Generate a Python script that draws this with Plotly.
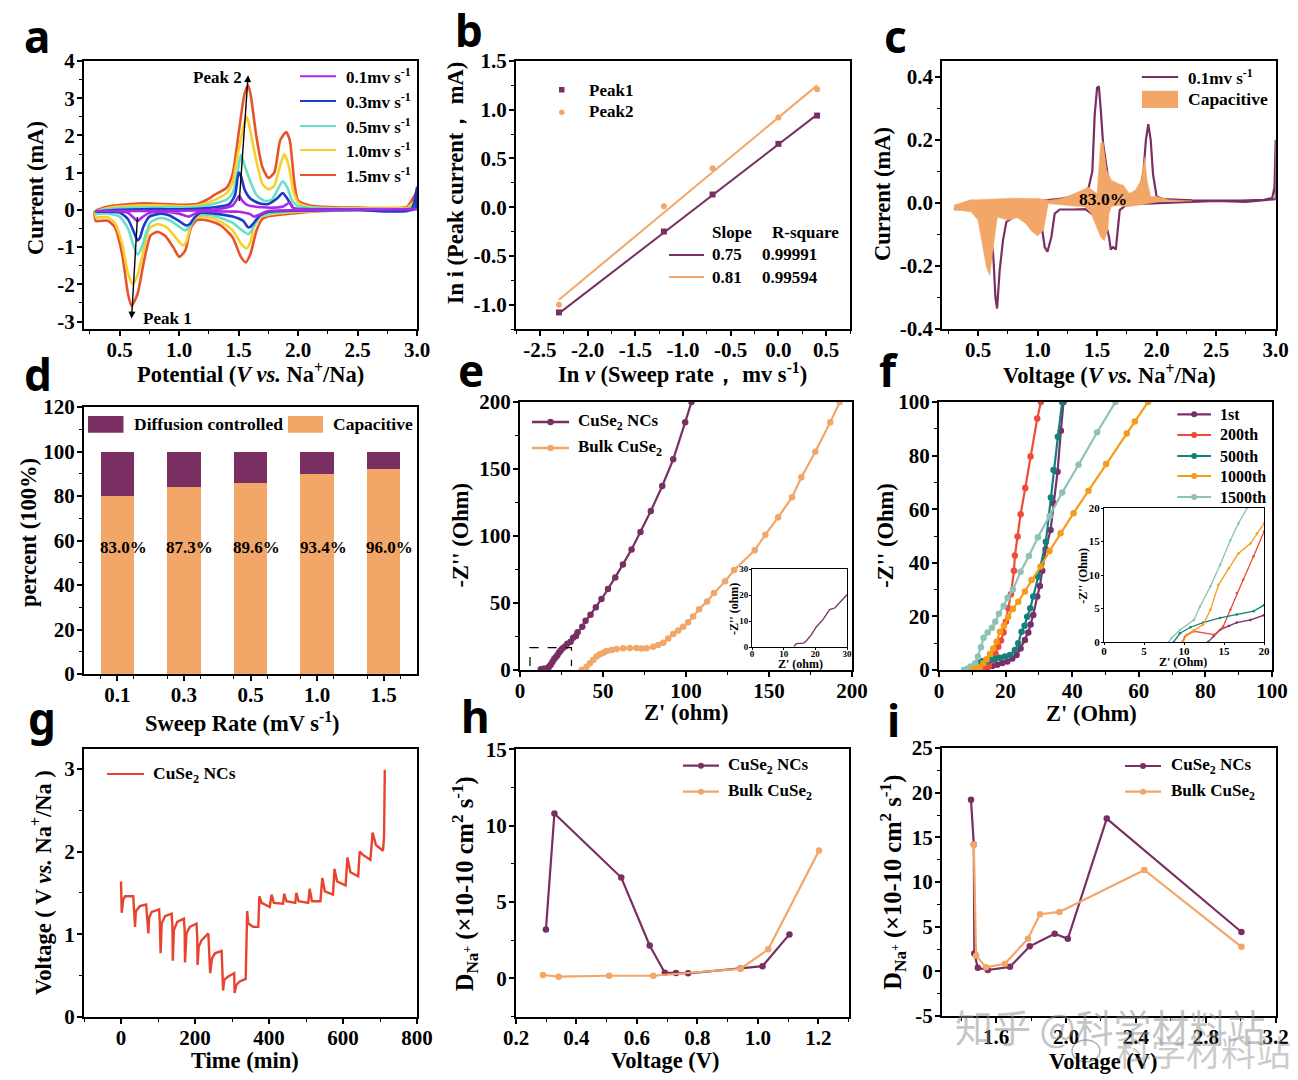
import plotly.graph_objects as go

# the page keeps 8px of body margin, so the figure is drawn 8px in from the window corner
W, H = 1290, 1072
OFFSET = 8
SERIF = "Liberation Serif"
PURPLE = "#7a2f62"
ORANGE = "#f2a667"

# panel a - CV curves, (potential, current)
cv_15 = [(0.29, -0.05), (0.33, 0.02), (0.4, 0.09), (0.5, 0.13), (0.7, 0.18), (1.0, 0.14), (1.15, 0.16), (1.25, 0.3), (1.3, 0.41), (1.4, 0.6),
         (1.45, 0.97), (1.5, 2.05), (1.55, 3.12), (1.58, 3.35), (1.6, 3.12), (1.65, 1.96), (1.7, 1.15), (1.75, 0.86), (1.8, 1.0), (1.85, 1.87),
         (1.9, 2.09), (1.93, 1.87), (1.97, 0.7), (2.0, 0.25), (2.1, 0.12), (2.3, 0.07), (2.5, 0.06), (2.8, 0.05), (2.95, 0.1), (3.0, 0.5),
         (2.9, 0.02), (2.5, 0.0), (2.2, -0.03), (2.0, -0.08), (1.85, -0.13), (1.75, -0.17), (1.7, -0.24), (1.65, -0.56), (1.6, -1.18), (1.56, -1.41),
         (1.52, -1.27), (1.45, -0.74), (1.35, -0.42), (1.25, -0.29), (1.15, -0.27), (1.1, -0.47), (1.05, -1.1), (1.0, -1.26), (0.95, -1.0), (0.88, -0.69),
         (0.82, -0.59), (0.76, -0.69), (0.7, -1.45), (0.65, -2.26), (0.6, -2.58), (0.57, -2.26), (0.52, -1.18), (0.46, -0.47), (0.4, -0.29), (0.33, -0.3), (0.3, -0.3), (0.29, -0.05)]
cv_10 = [(0.3, -0.05), (0.4, 0.05), (0.5, 0.09), (0.8, 0.12), (1.1, 0.1), (1.2, 0.15), (1.3, 0.27), (1.4, 0.45), (1.45, 0.75), (1.5, 1.6),
         (1.55, 2.35), (1.57, 2.5), (1.6, 2.1), (1.65, 1.3), (1.7, 0.7), (1.75, 0.55), (1.8, 0.65), (1.85, 1.2), (1.885, 1.5), (1.92, 1.2),
         (1.96, 0.5), (2.0, 0.2), (2.1, 0.08), (2.5, 0.04), (2.9, 0.04), (2.97, 0.05), (3.0, 0.3), (2.9, 0.01), (2.5, -0.01), (2.0, -0.05), (1.75, -0.13), (1.68, -0.2),
         (1.63, -0.45), (1.6, -0.85), (1.57, -1.03), (1.53, -0.95), (1.45, -0.55), (1.35, -0.32), (1.25, -0.2), (1.15, -0.2), (1.1, -0.4), (1.06, -0.85),
         (1.03, -0.95), (0.98, -0.78), (0.9, -0.48), (0.82, -0.38), (0.75, -0.5), (0.7, -1.1), (0.65, -1.75), (0.61, -2.0), (0.57, -1.7), (0.52, -0.9),
         (0.46, -0.35), (0.4, -0.2), (0.33, -0.2), (0.3, -0.2), (0.3, -0.05)]
cv_05 = [(0.3, -0.05), (0.4, 0.02), (0.5, 0.05), (0.8, 0.07), (1.1, 0.07), (1.2, 0.1), (1.3, 0.17), (1.4, 0.28), (1.45, 0.45), (1.49, 1.0),
         (1.52, 1.48), (1.55, 1.2), (1.6, 0.75), (1.65, 0.4), (1.72, 0.24), (1.78, 0.28), (1.83, 0.55), (1.87, 0.77), (1.91, 0.6), (1.95, 0.25),
         (2.0, 0.1), (2.2, 0.04), (2.6, 0.02), (2.96, 0.03), (3.0, 0.15), (2.9, 0.0), (2.5, -0.01), (2.0, -0.03), (1.75, -0.1), (1.68, -0.17), (1.64, -0.35), (1.6, -0.6),
         (1.58, -0.65), (1.53, -0.55), (1.45, -0.35), (1.35, -0.22), (1.25, -0.13), (1.15, -0.15), (1.12, -0.28), (1.08, -0.48), (1.05, -0.55), (1.0, -0.45),
         (0.92, -0.28), (0.84, -0.22), (0.76, -0.33), (0.72, -0.65), (0.68, -1.05), (0.65, -1.2), (0.62, -1.0), (0.57, -0.5), (0.5, -0.18), (0.4, -0.1), (0.3, -0.1), (0.3, -0.05)]
cv_03 = [(0.3, -0.05), (0.5, 0.0), (0.8, 0.02), (1.1, 0.02), (1.3, 0.07), (1.42, 0.15), (1.47, 0.4), (1.5, 1.0), (1.52, 0.9), (1.55, 0.55),
         (1.6, 0.3), (1.68, 0.17), (1.75, 0.16), (1.82, 0.3), (1.87, 0.45), (1.91, 0.3), (1.96, 0.05), (2.05, 0.02), (2.6, 0.01), (2.98, 0.02), (3.0, 0.6),
         (2.95, 0.0), (2.5, 0.0), (2.0, -0.02), (1.75, -0.05), (1.68, -0.15), (1.64, -0.3), (1.6, -0.45), (1.58, -0.47), (1.54, -0.3), (1.45, -0.18), (1.3, -0.1),
         (1.18, -0.08), (1.13, -0.2), (1.09, -0.38), (1.06, -0.42), (1.0, -0.3), (0.92, -0.15), (0.85, -0.1), (0.75, -0.18), (0.7, -0.45), (0.67, -0.75),
         (0.65, -0.82), (0.62, -0.6), (0.57, -0.25), (0.5, -0.07), (0.3, -0.05)]
cv_01 = [(0.3, -0.03), (0.7, -0.03), (1.2, -0.01), (1.35, 0.03), (1.45, 0.12), (1.48, 0.25), (1.505, 0.38), (1.53, 0.25), (1.58, 0.12), (1.7, 0.07),
         (1.8, 0.06), (1.88, 0.1), (1.93, 0.2), (1.96, 0.05), (2.0, 0.02), (3.0, 0.02), (2.0, -0.01), (1.75, -0.03), (1.68, -0.12), (1.63, -0.18),
         (1.6, -0.12), (1.5, -0.05), (1.3, -0.04), (1.17, -0.05), (1.12, -0.12), (1.08, -0.18), (1.0, -0.1), (0.85, -0.05), (0.75, -0.08), (0.68, -0.22),
         (0.65, -0.3), (0.62, -0.22), (0.57, -0.08), (0.45, -0.03), (0.3, -0.03)]
cv_labels = ["0.1", "0.3", "0.5", "1.0", "1.5"]
cv_colors = ["#a829e8", "#1c3cc8", "#66e0c8", "#f8d02c", "#e8542a"]

# panel b
ln_rate = [-2.3, -1.2, -0.69, 0.0, 0.405]
peak1 = [-1.08, -0.25, 0.13, 0.65, 0.94]
peak2 = [-1.0, 0.01, 0.4, 0.92, 1.21]
fit_x = [-2.3, 0.405]
fit1 = [-1.09, 0.95]
fit2 = [-0.95, 1.25]

# panel c
cap_curve = [(0.3, -0.02), (0.4, 0.0), (0.6, 0.005), (1.0, 0.005), (1.2, 0.014), (1.3, 0.02), (1.4, 0.03), (1.43, 0.05), (1.46, 0.1), (1.48, 0.28),
             (1.5, 0.365), (1.515, 0.37), (1.53, 0.3), (1.55, 0.19), (1.6, 0.06), (1.7, 0.03), (1.85, 0.02), (1.89, 0.1), (1.91, 0.2), (1.93, 0.25),
             (1.95, 0.2), (1.97, 0.09), (2.0, 0.02), (2.05, 0.012), (2.3, 0.008), (2.7, 0.007), (2.9, 0.01), (2.97, 0.015), (2.99, 0.05), (3.0, 0.2),
             (3.0, 0.012), (2.8, 0.005), (2.75, 0.003), (2.5, 0.006), (2.0, 0.0), (1.75, -0.005), (1.69, -0.023), (1.67, -0.108), (1.657, -0.148), (1.634, -0.14),
             (1.615, -0.148), (1.6, -0.108), (1.587, -0.087), (1.55, -0.06), (1.4, -0.02), (1.3, -0.021), (1.186, -0.021), (1.144, -0.034), (1.116, -0.108), (1.083, -0.155),
             (1.06, -0.14), (1.04, -0.087), (1.0, -0.03), (0.9, -0.02), (0.738, -0.06), (0.71, -0.118), (0.682, -0.213), (0.66, -0.335), (0.646, -0.3), (0.632, -0.193),
             (0.626, -0.16), (0.6, -0.08), (0.5, -0.02), (0.3, -0.02)]
cap_fill = [(0.3, -0.007), (0.44, 0.01), (0.5, 0.01), (0.78, 0.015), (1.0, 0.014), (1.1, 0.008), (1.2, 0.014), (1.3, 0.028), (1.4, 0.045), (1.43, 0.05),
            (1.46, 0.04), (1.5, 0.03), (1.53, 0.19), (1.55, 0.194), (1.58, 0.105), (1.62, 0.072), (1.68, 0.061), (1.72, 0.056), (1.77, 0.03), (1.82, 0.04),
            (1.87, 0.072), (1.9, 0.146), (1.92, 0.07), (1.95, 0.02), (2.0, 0.02), (2.1, 0.01), (2.3, 0.006), (2.0, 0.003), (1.9, -0.004), (1.75, -0.012),
            (1.68, -0.008), (1.62, -0.012), (1.6, -0.034), (1.59, -0.087), (1.56, -0.12), (1.53, -0.108), (1.45, -0.034), (1.4, -0.013), (1.3, -0.01), (1.09, -0.002),
            (1.05, -0.087), (1.0, -0.105), (0.95, -0.09), (0.9, -0.065), (0.83, -0.047), (0.75, -0.055), (0.662, -0.045), (0.598, -0.23), (0.57, -0.203), (0.528, -0.118),
            (0.5, -0.055), (0.444, -0.029), (0.346, -0.023), (0.3, -0.023), (0.3, -0.007)]

# panel d
sweep_labels = ["0.1", "0.3", "0.5", "1.0", "1.5"]
capacitive = [80, 84, 86, 90, 92]
diffusion = [20, 16, 14, 10, 8]
cap_percent = ["83.0%", "87.3%", "89.6%", "93.4%", "96.0%"]

# panel e
nc_z = [(12.5, 0.5), (14, 1), (15.5, 1), (16.5, 1.2), (17.5, 2.5), (18.5, 4), (19.5, 6), (20.5, 8), (21.5, 9.5), (22.5, 11), (23.5, 13), (24.5, 14.5),
        (25.5, 16), (27.1, 17.5), (28.5, 19.5), (30.5, 21.1), (32, 24), (33.7, 25.4), (34.7, 28.1), (37.5, 32.3), (39.5, 36.8), (42.5, 41.3), (45.7, 46.8),
        (49.1, 53), (53, 60.4), (57.4, 69.1), (62, 78.8), (67.2, 90), (72.6, 102.9), (78.8, 118.6), (85.7, 137.3), (92.3, 157.2), (99.5, 184.8), (103.3, 200)]
bulk_z = [(37.1, 0), (40.1, 2.5), (42.1, 5), (44.1, 7.5), (46.1, 10), (48.1, 11.7), (50.2, 12.9), (52.2, 14.2), (55.2, 15), (58.2, 15.7), (62.2, 16.2),
          (66.2, 16.4), (70.2, 16.4), (73.2, 16), (76.2, 16.2), (80.2, 17.4), (83.2, 18.7), (86.3, 20.4), (89.3, 23.6), (92.3, 26.9), (95.3, 29.4), (98.3, 32.3),
          (101.3, 35.6), (104.3, 40), (107.9, 45.3), (112.7, 51.2), (116.9, 57.5), (123.6, 66.2), (129, 74.6), (141.4, 89.3), (147.8, 101), (155.5, 113.9),
          (163.9, 128.9), (169.5, 143.8), (177.9, 162.9), (186.9, 184.8), (192.6, 200)]
inset_e = [(13.3, 0.3), (14, 1.3), (16.3, 1.5), (17.2, 2.4), (18.7, 4.7), (20.3, 7.7), (22.4, 10.5), (24.5, 14.4), (26.1, 15), (27.7, 17.2), (30, 20.1)]

# panel f
f_labels = ["1st", "200th", "500th", "1000th", "1500th"]
f_colors = ["#7a2f6c", "#ee4c38", "#14807a", "#f59c1a", "#8fc2b6"]
z_1st = [(13, 0), (14.5, 1), (16, 1.5), (17.5, 2), (19, 2.6), (20.5, 3.2), (22, 4.3), (23.3, 5.6), (24.5, 8), (25.8, 11.2), (26.8, 14), (27.5, 17), (28.3, 20.5),
         (29.5, 27.4), (30.3, 31.3), (31, 37), (32, 45), (33.5, 52.2), (34.4, 62.2), (35.6, 74), (36.6, 89.3), (37.4, 100)]
z_200 = [(12, 0), (13, 0.5), (14, 1), (15, 1.5), (16, 3.5), (17, 6), (17.8, 8.7), (18.6, 11), (19.4, 14), (20.1, 18), (20.8, 23), (21.6, 28.3), (22.5, 37), (22.8, 42.7),
         (23.6, 49.8), (24.5, 58.1), (25.9, 67.9), (27.5, 79.7), (29.5, 93.8), (30.6, 100)]
z_500 = [(9, 0), (10, 0.8), (11, 1.5), (12, 2.5), (13, 3.3), (13.8, 3), (15.3, 3.7), (16.8, 4.1), (18.3, 4.6), (19.8, 5), (21.3, 5.6), (22.8, 7.5), (23.8, 10),
         (24.8, 14.3), (25.7, 16.5), (26.5, 19.9), (27.4, 23), (28.3, 27.4), (29.8, 34.8), (32.1, 47.9), (33.6, 64.4), (34.4, 74.6), (35.7, 87), (37, 100)]
z_1000 = [(10, 0), (11, 0.5), (12.3, 1), (13.3, 2.5), (14.3, 4), (15.3, 6), (16.3, 8), (17.3, 10.5), (18.3, 14.3), (19.5, 16.5), (20.8, 19.9), (22.2, 22.8), (23.8, 25.5),
          (25.8, 29.3), (27.8, 33.6), (30.5, 38.6), (33.2, 44.4), (36.5, 51), (40.4, 58.5), (44.9, 66.9), (50.2, 76.9), (56.4, 88.2), (58.8, 92.7), (62.8, 100)]
z_1500 = [(7.5, 0), (8.5, 0.5), (9.5, 1.3), (10.9, 2.5), (11.7, 5), (12.6, 8.5), (13.4, 12), (14.6, 14), (15.9, 15.8), (16.9, 18), (18, 21), (19.4, 23.9), (20.6, 27),
          (22.2, 30), (24.5, 36.7), (27, 42.5), (29.7, 49.5), (33.2, 57.5), (37, 66.2), (41.9, 76.6), (47.5, 88.7), (53, 100)]
inset_1st = [(13, 0), (13.7, 0.9), (14.5, 1.8), (15.6, 2.4), (16.6, 2.9), (18.3, 3.3), (20, 4)]
inset_200 = [(9.8, 0), (10.1, 0.8), (11.2, 1.6), (13.8, 1.1), (14.9, 2.3), (15.8, 4.8), (16.6, 7.3), (17.4, 9.3), (18.7, 12.8), (20, 16.5)]
inset_500 = [(8.7, 0), (9.5, 1.3), (10.8, 2.2), (12.4, 2.9), (14.5, 3.6), (16.6, 4.1), (18.7, 4.6), (20, 5.5)]
inset_1000 = [(9.9, 0), (10.3, 1.1), (11.2, 1.7), (12.4, 2.6), (13.3, 4.8), (14.3, 8.5), (15.6, 11), (16.8, 13.2), (18.3, 14.7), (19.1, 16.2), (20, 17.7)]
inset_1500 = [(8.1, 0), (8.45, 0.6), (9.5, 1.8), (11.25, 3.3), (12, 5.3), (13.3, 8.3), (14.5, 11.5), (15.8, 15.2), (16.8, 17.7), (17.9, 20)]

# panel g
gitt = [(0, 1.64), (2, 1.26), (6, 1.42), (11, 1.46), (33, 1.46), (36, 1.3), (38, 1.09), (40, 1.28), (51, 1.34), (68, 1.36), (70, 1.22), (74, 1.01), (76, 1.2),
        (83, 1.27), (103, 1.3), (105, 1.13), (107, 0.77), (110, 1.13), (119, 1.22), (137, 1.25), (139, 1.09), (140, 0.68), (143, 1.05), (152, 1.15), (170, 1.19),
        (172, 1.05), (173, 0.66), (177, 1.01), (186, 1.09), (204, 1.13), (206, 0.97), (207, 0.63), (210, 0.85), (218, 0.93), (236, 1.01), (238, 0.81), (241, 0.53),
        (246, 0.71), (254, 0.77), (272, 0.8), (274, 0.57), (276, 0.32), (279, 0.45), (290, 0.49), (306, 0.53), (307, 0.29), (312, 0.39), (321, 0.43), (337, 0.46),
        (338, 0.73), (341, 1.28), (344, 1.13), (357, 1.09), (371, 1.09), (374, 1.46), (380, 1.38), (402, 1.33), (407, 1.48), (413, 1.38), (438, 1.37), (441, 1.49),
        (447, 1.4), (471, 1.38), (474, 1.5), (480, 1.4), (506, 1.38), (510, 1.55), (516, 1.4), (539, 1.4), (544, 1.68), (551, 1.52), (573, 1.48), (577, 1.79),
        (584, 1.64), (607, 1.59), (612, 1.93), (620, 1.75), (641, 1.7), (645, 2.0), (654, 1.96), (674, 1.9), (680, 2.23), (689, 2.08), (708, 2.01), (711, 2.18), (713, 2.99)]

# panel h
h_nc_v = [0.299, 0.327, 0.548, 0.642, 0.692, 0.729, 0.769, 0.942, 1.015, 1.104]
h_nc_d = [3.2, 10.8, 6.6, 2.15, 0.37, 0.35, 0.33, 0.65, 0.8, 2.88]
h_bulk_v = [0.289, 0.341, 0.508, 0.654, 0.943, 1.034, 1.202]
h_bulk_d = [0.22, 0.11, 0.17, 0.17, 0.63, 1.9, 8.38]

# panel i
i_nc_v = [1.456, 1.472, 1.475, 1.495, 1.552, 1.679, 1.792, 1.935, 2.01, 2.233, 3.004]
i_nc_d = [19.2, 14.2, 2.0, 0.4, 0.15, 0.5, 2.8, 4.2, 3.65, 17.1, 4.4]
i_bulk_v = [1.472, 1.485, 1.542, 1.65, 1.782, 1.851, 1.962, 2.448, 3.004]
i_bulk_d = [14.2, 1.75, 0.45, 0.85, 3.65, 6.4, 6.65, 11.35, 2.75]

# tick labels that need a plain hyphen for negatives
a_ticks = [-3, -2, -1, 0, 1, 2, 3, 4]
a_ticktext = ["-3", "-2", "-1", "0", "1", "2", "3", "4"]
bx_ticks = [-2.5, -2.0, -1.5, -1.0, -0.5, 0.0, 0.5]
bx_ticktext = ["-2.5", "-2.0", "-1.5", "-1.0", "-0.5", "0.0", "0.5"]
by_ticks = [-1.0, -0.5, 0.0, 0.5, 1.0, 1.5]
by_ticktext = ["-1.0", "-0.5", "0.0", "0.5", "1.0", "1.5"]
c_ticks = [-0.4, -0.2, 0.0, 0.2, 0.4]
c_ticktext = ["-0.4", "-0.2", "0.0", "0.2", "0.4"]
i_ticks = [-5, 0, 5, 10, 15, 20, 25]
i_ticktext = ["-5", "0", "5", "10", "15", "20", "25"]


def xy(pairs):
    return [p[0] for p in pairs], [p[1] for p in pairs]


def px(x):
    return (x - OFFSET) / W


def py(y):
    return 1 - (y - OFFSET) / H


fig = go.Figure()
shapes = []
notes = []
layout_axes = {}


def label(x, y, text, size=17, anchor="left", color="black", family=SERIF, weight=700, textangle=0):
    notes.append(dict(x=px(x), y=py(y), xref="paper", yref="paper", text=text, showarrow=False, xanchor=anchor, yanchor="middle", borderpad=0,
                      font=dict(family=family, size=size, color=color, weight=weight), textangle=textangle))


def line_key(x0, x1, y, color, text, tx, size=17, width=2, dot=0):
    shapes.append(dict(type="line", xref="paper", yref="paper", x0=px(x0), x1=px(x1), y0=py(y), y1=py(y), line=dict(color=color, width=width)))
    if dot:
        xm = (x0 + x1) / 2
        shapes.append(dict(type="circle", xref="paper", yref="paper", x0=px(xm - dot), x1=px(xm + dot), y0=py(y + dot), y1=py(y - dot),
                           fillcolor=color, line=dict(color=color, width=0)))
    label(tx, y, text, size=size)


def box_key(x0, x1, y0, y1, color, text, tx, size=17):
    shapes.append(dict(type="rect", xref="paper", yref="paper", x0=px(x0), x1=px(x1), y0=py(y1), y1=py(y0), fillcolor=color, line=dict(width=0)))
    label(tx, (y0 + y1) / 2, text, size=size)


def axes(n, box, xr, yr, xtitle, ytitle, xtick, ytick, xminor=None, yminor=None, tick_size=21, title_size=22.5, ytitle_size=None, lw=2,
         ticklen=5, xpull=-4, ypull=-2):
    # xtitle and ytitle are (text, centre x, centre y) in window pixels
    left, top, right, bottom = box
    common = dict(showgrid=False, zeroline=False, showline=True, mirror=True, linecolor="black", linewidth=lw, ticks="outside", ticklen=ticklen,
                  tickwidth=lw * 0.75, tickcolor="black", automargin=False, ticklabeloverflow="allow")
    font = dict(family=SERIF, size=tick_size, color="black", weight=700)
    xa = dict(common, domain=[px(left), px(right)], range=xr, anchor=f"y{n}", tickfont=font, ticklabelstandoff=xpull)
    ya = dict(common, domain=[py(bottom), py(top)], range=yr, anchor=f"x{n}", tickfont=font, ticklabelstandoff=ypull)
    xa.update(xtick)
    ya.update(ytick)
    if xminor:
        xa["minor"] = dict(xminor, ticks="outside", ticklen=ticklen * 0.6, tickwidth=lw * 0.6, tickcolor="black")
    if yminor:
        ya["minor"] = dict(yminor, ticks="outside", ticklen=ticklen * 0.6, tickwidth=lw * 0.6, tickcolor="black")
    layout_axes[f"xaxis{n}"] = xa
    layout_axes[f"yaxis{n}"] = ya
    label(xtitle[1], xtitle[2], xtitle[0], size=title_size, anchor="center")
    label(ytitle[1], ytitle[2], ytitle[0], size=ytitle_size or title_size, anchor="center", textangle=-90)


def trace(n, x, y, color, name, width=2.2, size=0, symbol="circle", spline=False):
    mode = "lines+markers" if size and width else ("markers" if size else "lines")
    ln = dict(color=color, width=width)
    if spline:
        ln.update(shape="spline", smoothing=0.6)
    fig.add_trace(go.Scatter(x=x, y=y, mode=mode, name=name, showlegend=False, line=ln, marker=dict(color=color, size=size or 6, symbol=symbol),
                             xaxis=f"x{n}", yaxis=f"y{n}"))


# a
axes(1, (84, 61, 417, 329), [0.2, 3.0], [-3.2, 4], ("Potential (<i>V vs.</i> Na<sup>+</sup>/Na)", 250, 372.7), ("Current (mA)", 36, 188),
     dict(tick0=0.5, dtick=0.5, tickformat=".1f"), dict(tickmode="array", tickvals=a_ticks, ticktext=a_ticktext), dict(tick0=0.25, dtick=0.25), dict(tick0=-3, dtick=0.5))
for curve, lab, col in reversed(list(zip([cv_01, cv_03, cv_05, cv_10, cv_15], cv_labels, cv_colors))):
    x, y = xy(curve)
    trace(1, x, y, col, lab + " mV/s", width=2.6, spline=True)
for lab, col, yy in zip(cv_labels, cv_colors, [76.3, 101, 126, 150, 175]):
    line_key(300, 336, yy, col, f"{lab}mv s<sup>-1</sup>", 345)
label(217, 77, "Peak 2", anchor="center")
label(167, 318, "Peak 1", anchor="center")
for tip, tail in [((1.58, 3.62), (1.505, 0.2)), ((0.6, -2.92), (0.65, -0.15))]:
    notes.append(dict(x=tip[0], y=tip[1], ax=tail[0], ay=tail[1], xref="x", yref="y", axref="x", ayref="y", text="", showarrow=True,
                      arrowhead=2, arrowsize=1, arrowwidth=1.4, arrowcolor="black"))

# b
axes(2, (516, 61, 850, 329), [-2.75, 0.75], [-1.25, 1.5], ("In <i>v</i> (Sweep rate， mv s<sup>-1</sup>)", 682.8, 372.7), ("In i (Peak current， mA)", 455.7, 182.5),
     dict(tickmode="array", tickvals=bx_ticks, ticktext=bx_ticktext), dict(tickmode="array", tickvals=by_ticks, ticktext=by_ticktext),
     dict(tick0=-2.75, dtick=0.25), dict(tick0=-1.25, dtick=0.25))
trace(2, fit_x, fit1, PURPLE, "fit 1", width=2)
trace(2, fit_x, fit2, ORANGE, "fit 2", width=2)
trace(2, ln_rate, peak1, PURPLE, "Peak1", width=0, size=6, symbol="square")
trace(2, ln_rate, peak2, ORANGE, "Peak2", width=0, size=6)
shapes.append(dict(type="rect", xref="paper", yref="paper", x0=px(559), x1=px(564.5), y0=py(92.5), y1=py(87), fillcolor=PURPLE, line=dict(width=0)))
shapes.append(dict(type="circle", xref="paper", yref="paper", x0=px(559), x1=px(564.5), y0=py(115), y1=py(109.5), fillcolor=ORANGE, line=dict(width=0)))
label(588, 90, "Peak1")
label(588, 112, "Peak2")
label(711.5, 233, "Slope")
label(771, 233, "R-square")
line_key(669, 704, 255, PURPLE, "0.75", 711.5, width=1.8)
line_key(669, 704, 277, ORANGE, "0.81", 711.5, width=1.8)
label(760.7, 255, "0.99991")
label(760.7, 277, "0.99594")

# c
axes(3, (942.3, 61, 1275.7, 329), [0.2, 3.0], [-0.4, 0.45], ("Voltage (<i>V vs.</i> Na<sup>+</sup>/Na)", 1109, 374), ("Current (mA)", 883, 194),
     dict(tick0=0.5, dtick=0.5, tickformat=".1f"), dict(tickmode="array", tickvals=c_ticks, ticktext=c_ticktext), dict(tick0=0.25, dtick=0.25), dict(tick0=-0.4, dtick=0.1))
x, y = xy(cap_curve)
trace(3, x, y, PURPLE, "0.1 mV/s", width=2.2)
x, y = xy(cap_fill)
fig.add_trace(go.Scatter(x=x, y=y, mode="lines", fill="toself", fillcolor=ORANGE, line=dict(color=ORANGE, width=0.5), name="Capacitive", showlegend=False,
                         xaxis="x3", yaxis="y3"))
line_key(1142, 1178, 77, PURPLE, "0.1mv s<sup>-1</sup>", 1186.7, width=1.8)
box_key(1142, 1178, 90.7, 108, ORANGE, "Capacitive", 1186.7, size=17.5)
label(1102.7, 199, "83.0%", size=17.5, anchor="center")

# d
bar_pos = list(range(len(sweep_labels)))
axes(4, (84, 407, 417, 674), [-0.5, 4.5], [0, 120], ("Sweep Rate (mV s<sup>-1</sup>)", 242.7, 721.7), ("percent (100%)", 28, 533),
     dict(tickmode="array", tickvals=bar_pos, ticktext=sweep_labels), dict(tick0=0, dtick=20), dict(tickmode="array", tickvals=[p + d for p in bar_pos for d in (-0.25, 0.25)]),
     dict(tick0=0, dtick=10))
fig.add_trace(go.Bar(x=bar_pos, y=capacitive, width=0.5, marker=dict(color=ORANGE, line=dict(width=0)), name="Capacitive", showlegend=False, xaxis="x4", yaxis="y4"))
fig.add_trace(go.Bar(x=bar_pos, y=diffusion, width=0.5, marker=dict(color=PURPLE, line=dict(width=0)), name="Diffusion controlled", showlegend=False, xaxis="x4", yaxis="y4"))
for p, txt in zip(bar_pos, cap_percent):
    notes.append(dict(x=p + 0.09, y=57, xref="x4", yref="y4", text=txt, showarrow=False, font=dict(family=SERIF, size=17, color="black", weight=700)))
box_key(88, 123.5, 416, 432.7, PURPLE, "Diffusion controlled", 133, size=17.5)
box_key(288, 323, 416, 432.7, ORANGE, "Capacitive", 331.7, size=17.5)

# e
axes(5, (520, 402, 852, 670), [0, 200], [0, 200], ("Z' (ohm)", 686, 712), ("-Z'' (Ohm)", 460.7, 535.7),
     dict(tick0=0, dtick=50), dict(tick0=0, dtick=50), dict(tick0=25, dtick=25), dict(tick0=25, dtick=25))
x, y = xy(nc_z)
trace(5, x, y, PURPLE, "CuSe2 NCs", size=6.5)
x, y = xy(bulk_z)
trace(5, x, y, ORANGE, "Bulk CuSe2", size=6.5)
shapes.append(dict(type="path", xref="x5", yref="y5", path="M 6 3 L 6 16.7 L 31 16.7 L 31 3", line=dict(color="black", width=1.2, dash="dash")))
line_key(532, 569, 422, PURPLE, "CuSe<sub>2</sub> NCs", 577, dot=3.2, width=2.4)
line_key(532, 569, 448, ORANGE, "Bulk CuSe<sub>2</sub>", 577, dot=3.2, width=2.4)
axes(6, (752, 569, 847, 647), [0, 30], [0, 30], ("Z' (ohm)", 800, 664), ("-Z'' (ohm)", 734, 609),
     dict(tick0=0, dtick=10), dict(tick0=0, dtick=10), tick_size=9, title_size=12, lw=1, ticklen=2, xpull=-4, ypull=-1)
x, y = xy(inset_e)
trace(6, x, y, PURPLE, "CuSe2 NCs inset", width=1.3)

# f
axes(7, (939, 402, 1272, 670), [0, 100], [0, 100], ("Z' (Ohm)", 1091.7, 713), ("-Z'' (Ohm)", 886, 535.7),
     dict(tick0=0, dtick=20), dict(tick0=0, dtick=20), dict(tick0=10, dtick=10), dict(tick0=10, dtick=10))
for curve, lab, col in zip([z_1st, z_200, z_500, z_1500, z_1000], ["1st", "200th", "500th", "1500th", "1000th"],
                           [f_colors[0], f_colors[1], f_colors[2], f_colors[4], f_colors[3]]):
    x, y = xy(curve)
    trace(7, x, y, col, lab, size=6.5)
for lab, col, yy in zip(f_labels, f_colors, [414.3, 435, 456, 476, 497]):
    line_key(1177.3, 1211, yy, col, lab, 1219, size=16, dot=3, width=2.2)
axes(8, (1104, 508, 1264, 642), [0, 20], [0, 20], ("Z' (Ohm)", 1183, 661.7), ("-Z'' (Ohm)", 1083, 575.7),
     dict(tick0=0, dtick=5), dict(tick0=0, dtick=5), tick_size=11, title_size=12, lw=1, ticklen=2, xpull=-3, ypull=-1)
for curve, lab, col in zip([inset_1st, inset_200, inset_500, inset_1000, inset_1500], f_labels, f_colors):
    x, y = xy(curve)
    trace(8, x, y, col, lab + " inset", width=1.3, size=2.5)

# g
axes(9, (84, 749, 417, 1017), [-100, 800], [0, 3.24], ("Time (min)", 245, 1060), ("Voltage ( V <i>vs.</i> Na<sup>+</sup>/Na )", 41.7, 882.3),
     dict(tick0=0, dtick=200), dict(tick0=0, dtick=1), dict(tick0=-100, dtick=100), dict(tick0=0, dtick=0.5))
x, y = xy(gitt)
trace(9, x, y, "#e8432e", "CuSe2 NCs", width=2.4)
line_key(107, 144, 774, "#e8432e", "CuSe<sub>2</sub> NCs", 152, size=17.5)

# h
d_title = "D<sub>Na<sup>+</sup></sub> (×10-10 cm<sup>2</sup> s<sup>-1</sup>)"
axes(10, (516, 749.3, 849, 1016.7), [0.2, 1.301], [-2.51, 15], ("Voltage (V)", 665, 1060), (d_title, 465, 883.3),
     dict(tick0=0.2, dtick=0.2, tickformat=".1f"), dict(tick0=0, dtick=5), dict(tick0=0.2, dtick=0.1), dict(tick0=-2.5, dtick=2.5), ytitle_size=24.5)
trace(10, h_nc_v, h_nc_d, PURPLE, "CuSe2 NCs", size=6.5)
trace(10, h_bulk_v, h_bulk_d, ORANGE, "Bulk CuSe2", size=6.5)
line_key(683, 719, 765.7, PURPLE, "CuSe<sub>2</sub> NCs", 727, dot=3, width=2.2)
line_key(683, 719, 791.7, ORANGE, "Bulk CuSe<sub>2</sub>", 727, dot=3, width=2.2)

# i
axes(11, (942, 748, 1275.7, 1016), [1.29, 3.2], [-5, 25], ("Voltage (V)", 1103, 1061.7), (d_title, 892.7, 882),
     dict(tick0=1.6, dtick=0.4, tickformat=".1f"), dict(tickmode="array", tickvals=i_ticks, ticktext=i_ticktext), dict(tick0=1.4, dtick=0.2), dict(tick0=-5, dtick=2.5), ytitle_size=24.5)
trace(11, i_nc_v, i_nc_d, PURPLE, "CuSe2 NCs", size=6.5)
trace(11, i_bulk_v, i_bulk_d, ORANGE, "Bulk CuSe2", size=6.5)
line_key(1125, 1161, 766, PURPLE, "CuSe<sub>2</sub> NCs", 1170, dot=3, width=2.2)
line_key(1125, 1161, 791.7, ORANGE, "Bulk CuSe<sub>2</sub>", 1170, dot=3, width=2.2)

# panel letters
for txt, xx, yy in [("a", 23, 36), ("b", 454, 30), ("c", 883, 36), ("d", 23, 374), ("e", 457, 370), ("f", 878, 370), ("g", 27, 718), ("h", 460, 716), ("i", 886, 720)]:
    label(xx, yy, txt, size=44, family="Noto Sans")

# watermark
label(1110, 1025, "知乎 @科学材料站", size=38, anchor="center", color="rgba(140,140,140,0.5)", family="Noto Sans CJK SC", weight=400)
label(1203, 1050, "科学材料站", size=35, anchor="center", color="rgba(140,140,140,0.45)", family="Noto Sans CJK SC", weight=400)
shapes.append(dict(type="circle", xref="paper", yref="paper", x0=px(1072), x1=px(1100), y0=py(1062), y1=py(1040), line=dict(color="rgba(120,120,120,0.6)", width=1.5)))

fig.update_layout(width=W, height=H, autosize=False, margin=dict(l=0, r=0, t=0, b=0, autoexpand=False), paper_bgcolor="white", plot_bgcolor="white",
                  barmode="stack", showlegend=False, shapes=shapes, annotations=notes, **layout_axes)
fig.write_html("out.html")
